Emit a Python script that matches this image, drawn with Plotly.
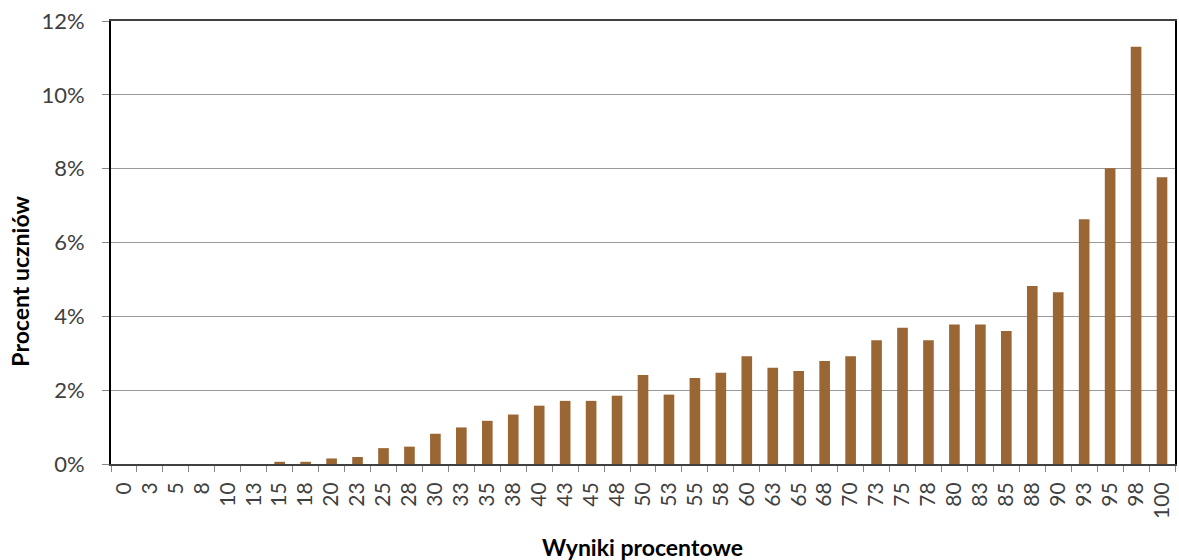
import plotly.graph_objects as go

categories = ["0", "3", "5", "8", "10", "13", "15", "18", "20", "23", "25", "28", "30", "33",
              "35", "38", "40", "43", "45", "48", "50", "53", "55", "58", "60", "63", "65", "68",
              "70", "73", "75", "78", "80", "83", "85", "88", "90", "93", "95", "98", "100"]
percent_students = [0.0, 0.0, 0.0, 0.0, 0.0, 0.0, 0.06, 0.06, 0.15, 0.19, 0.43, 0.47, 0.82, 0.99,
                    1.17, 1.34, 1.58, 1.71, 1.71, 1.85, 2.41, 1.88, 2.33, 2.47, 2.92, 2.61, 2.52, 2.79,
                    2.92, 3.35, 3.69, 3.35, 3.78, 3.78, 3.60, 4.82, 4.65, 6.63, 8.01, 11.30, 7.77]
values = [v / 100 for v in percent_students]

y_title = "Procent uczniów"
x_title = "Wyniki procentowe"

W, H = 1179, 560
ML, MR, MT, MB = 111, 2, 21, 96
plot_w = W - ML - MR
plot_h = H - MT - MB

def px_to_paper(px, py):
    return (px - ML) / plot_w, (H - MB - py) / plot_h

font_family = "Lato, 'Open Sans', 'DejaVu Sans', sans-serif"

fig = go.Figure()
fig.add_trace(go.Bar(
    x=categories, y=values,
    marker=dict(color="#9A6634", line=dict(width=0)),
    hoverinfo="x+y",
))

yx, yy = px_to_paper(19.5, 281)
xx, xy = px_to_paper(643, 547)

fig.update_layout(
    width=W, height=H,
    margin=dict(l=ML, r=MR, t=MT, b=MB),
    paper_bgcolor="white", plot_bgcolor="white",
    bargap=0.59,
    showlegend=False,
    font=dict(family=font_family, color="#404040"),
    annotations=[
        dict(text=f"<b>{y_title}</b>", x=yx, y=yy, xref="paper", yref="paper",
             xanchor="center", yanchor="middle",
             showarrow=False, textangle=-90, font=dict(size=23, color="black", family=font_family)),
        dict(text=f"<b>{x_title}</b>", x=xx, y=xy, xref="paper", yref="paper",
             xanchor="center", yanchor="middle",
             showarrow=False, font=dict(size=23, color="black", family=font_family)),
    ],
)

fig.update_xaxes(
    type="category",
    tickangle=-90,
    tickfont=dict(size=21, color="#404040"),
    ticks="outside", tickson="boundaries", ticklen=6, tickcolor="#868686",
    ticklabelstandoff=8,
    showline=True, linecolor="#404040", linewidth=2, mirror=True,
    showgrid=False,
)
fig.update_yaxes(
    range=[0, 0.12], dtick=0.02, tickformat=".0%",
    tickfont=dict(size=22, color="#404040"),
    ticks="outside", ticklen=7, tickcolor="#868686",
    ticklabelstandoff=13,
    showline=True, linecolor="black", linewidth=2, mirror=True,
    showgrid=True, gridcolor="#9A9A9A", gridwidth=1,
    zeroline=False,
)

fig.write_html("out.html", config={"displayModeBar": False},
               post_script="document.body.style.margin='0';")
